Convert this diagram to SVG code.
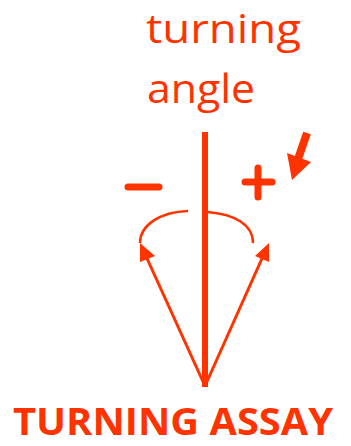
<svg xmlns="http://www.w3.org/2000/svg" width="351" height="446" viewBox="0 0 351 446">
<style>
.t{font-family:"Open Sans","Liberation Sans",sans-serif;fill:#FF3300}
.s{stroke:#FF3300;fill:none}
</style>
<rect width="351" height="446" fill="#fff"/>
<g id="title">
<text class="t" x="146" y="43" font-size="41" textLength="155" lengthAdjust="spacingAndGlyphs">turning</text>
<text class="t" x="147" y="103" font-size="41" textLength="108" lengthAdjust="spacingAndGlyphs">angle</text>
</g>
<g id="axis">
<line class="s" x1="205" y1="132" x2="205" y2="387" stroke-width="6"/>
</g>
<g id="minus">
<line class="s" x1="128" y1="187" x2="159" y2="187" stroke-width="7" stroke-linecap="round"/>
</g>
<g id="plus">
<line class="s" x1="245" y1="182" x2="272" y2="182" stroke-width="7" stroke-linecap="round"/>
<line class="s" x1="258" y1="168" x2="258" y2="197" stroke-width="7" stroke-linecap="round"/>
</g>
<g id="indicator">
<line class="s" x1="307" y1="133" x2="297" y2="162" stroke-width="8"/>
<path d="M287,153 L311,162 L292,180 Z" fill="#FF3300"/>
</g>
<g id="connectors">
<path class="s" d="M188,211 C160,212 140,225 140,243" stroke-width="2.5"/>
<path class="s" d="M207,212 C235,214 253,225 253,243" stroke-width="2.5"/>
<line class="s" x1="205" y1="386" x2="145" y2="254" stroke-width="3"/>
<path d="M140,243 L155,256 L140,262 Z" fill="#FF3300"/>
<line class="s" x1="205" y1="386" x2="264" y2="254" stroke-width="3"/>
<path d="M269,243 L269,262 L255,256 Z" fill="#FF3300"/>
</g>
<g id="label">
<text class="t" x="13" y="435" font-size="38" font-weight="bold" textLength="320" lengthAdjust="spacingAndGlyphs">TURNING ASSAY</text>
</g>
</svg>
